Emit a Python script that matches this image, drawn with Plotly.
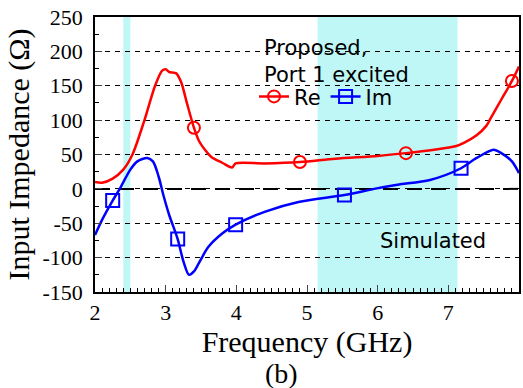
import plotly.graph_objects as go

# --- data ---
re_freq = [2.0, 2.1, 2.25, 2.4, 2.53, 2.7, 2.85, 2.95, 3.0, 3.05, 3.15, 3.22, 3.3, 3.4, 3.47, 3.57,
           3.65, 3.8, 3.94, 3.99, 4.4, 4.9, 5.4, 6.0, 6.4, 6.8, 7.1, 7.22, 7.4, 7.54, 7.6, 7.75, 7.9, 8.0]
re_vals = [10, 9, 15, 28, 50, 100, 150, 172, 174, 170, 168, 155, 125, 89, 70, 55,
           46, 38, 31, 37, 37, 39, 44, 48, 52, 57, 62, 67, 78, 92, 103, 130, 157, 178]

im_freq = [2.0, 2.1, 2.25, 2.35, 2.5, 2.6, 2.74, 2.82, 2.9, 2.97, 3.05, 3.17, 3.25, 3.33, 3.4, 3.47,
           3.6, 3.8, 3.99, 4.41, 4.88, 5.53, 5.95, 6.28, 6.74, 7.18, 7.4, 7.64, 7.75, 7.9, 8.0]
im_vals = [-67, -45, -17, 0, 28, 40, 45, 40, 18, -10, -38, -73, -105, -125, -120, -108,
           -85, -65, -52, -33, -19, -9, 0, 6, 13, 30, 45, 57, 52, 40, 23]

re_mark_freq = [3.40, 4.90, 6.40, 7.90]
re_mark_vals = [89, 39, 52, 157]
im_mark_freq = [2.25, 3.17, 3.99, 5.53, 7.18]
im_mark_vals = [-17, -73, -52, -9, 30]

bands = [(2.40, 2.50), (5.15, 7.13)]

y_ticks = [-150, -100, -50, 0, 50, 100, 150, 200, 250]
y_tick_text = ["-150", "-100", "-50", "0", "50", "100", "150", "200", "250"]
x_ticks = [2, 3, 4, 5, 6, 7, 8]

RED = "#ff0000"
BLUE = "#0000ff"
SERIF = "Liberation Serif"
SANS = "DejaVu Sans"

fig = go.Figure()

fig.add_trace(go.Scatter(x=re_freq, y=re_vals, mode="lines", line=dict(color=RED, width=2.5, shape="spline", smoothing=0.8),
                         showlegend=False, hoverinfo="skip"))
fig.add_trace(go.Scatter(x=im_freq, y=im_vals, mode="lines", line=dict(color=BLUE, width=2.5, shape="spline", smoothing=0.8),
                         showlegend=False, hoverinfo="skip"))
fig.add_trace(go.Scatter(x=re_mark_freq, y=re_mark_vals, mode="markers",
                         marker=dict(symbol="circle-open", size=12, color=RED, line=dict(width=2)), showlegend=False))
fig.add_trace(go.Scatter(x=im_mark_freq, y=im_mark_vals, mode="markers",
                         marker=dict(symbol="square-open", size=13, color=BLUE, line=dict(width=2)), showlegend=False))
# legend entries
fig.add_trace(go.Scatter(x=[None], y=[None], mode="lines+markers", name="Re",
                         line=dict(color=RED, width=2.5),
                         marker=dict(symbol="circle-open", size=12, color=RED, line=dict(width=2))))
fig.add_trace(go.Scatter(x=[None], y=[None], mode="lines+markers", name="Im",
                         line=dict(color=BLUE, width=2.5),
                         marker=dict(symbol="square-open", size=13, color=BLUE, line=dict(width=2))))

for x0, x1 in bands:
    fig.add_shape(type="rect", xref="x", yref="y", x0=x0, x1=x1, y0=-150, y1=250,
                  fillcolor="#bff7f7", line=dict(width=0), layer="below")

fig.add_shape(type="line", xref="x", yref="y", x0=2, x1=8, y0=0, y1=0,
              line=dict(color="black", width=2, dash="15px,9px"), layer="below")

fig.add_annotation(text="Proposed,<br>Port 1 excited", xref="paper", yref="paper", x=0.395, y=0.84,
                   xanchor="left", yanchor="middle", align="left", showarrow=False,
                   font=dict(family=SANS, size=21, color="black"))
fig.add_annotation(text="Simulated", xref="paper", yref="paper", x=0.796, y=0.185,
                   xanchor="center", yanchor="middle", showarrow=False,
                   font=dict(family=SANS, size=21, color="black"))
fig.add_annotation(text="(b)", xref="paper", yref="paper", x=0.44, y=0, yshift=-64,
                   xanchor="center", yanchor="top", showarrow=False,
                   font=dict(family=SERIF, size=28, color="black"))

fig.update_layout(
    width=523, height=388,
    margin=dict(l=95, r=2, t=17, b=96),
    paper_bgcolor="white", plot_bgcolor="white",
    font=dict(family=SERIF, size=22, color="black"),
    showlegend=True,
    legend=dict(orientation="h", x=0.375, y=0.71, xanchor="left", yanchor="middle",
                bgcolor="rgba(0,0,0,0)", font=dict(family=SANS, size=21, color="black"),
                itemwidth=30, tracegroupgap=0),
    xaxis=dict(range=[2, 8], tickvals=x_ticks, ticks="inside", ticklen=7, tickwidth=1,
               showline=True, linecolor="black", linewidth=1.5, mirror=True, showgrid=False, zeroline=False,
               tickfont=dict(family=SERIF, size=22, color="black"), ticklabelstandoff=0,
               minor=dict(dtick=0.1, ticks="inside", ticklen=4, tickcolor="black", showgrid=False),
               title=dict(text="Frequency (GHz)", font=dict(family=SERIF, size=30, color="black"), standoff=0)),
    yaxis=dict(range=[-150, 250], tickvals=y_ticks, ticktext=y_tick_text, ticks="inside", ticklen=7, tickwidth=1,
               showline=True, linecolor="black", linewidth=1.5, mirror=True, zeroline=False,
               showgrid=True, gridcolor="black", gridwidth=1, griddash="5px,5px",
               tickfont=dict(family=SERIF, size=22, color="black"), ticklabelstandoff=6,
               minor=dict(dtick=25, ticks="inside", ticklen=4, tickcolor="black", showgrid=False),
               title=dict(text="Input Impedance (Ω)", font=dict(family=SERIF, size=30, color="black"), standoff=4)),
)

fig.write_html("out.html")
